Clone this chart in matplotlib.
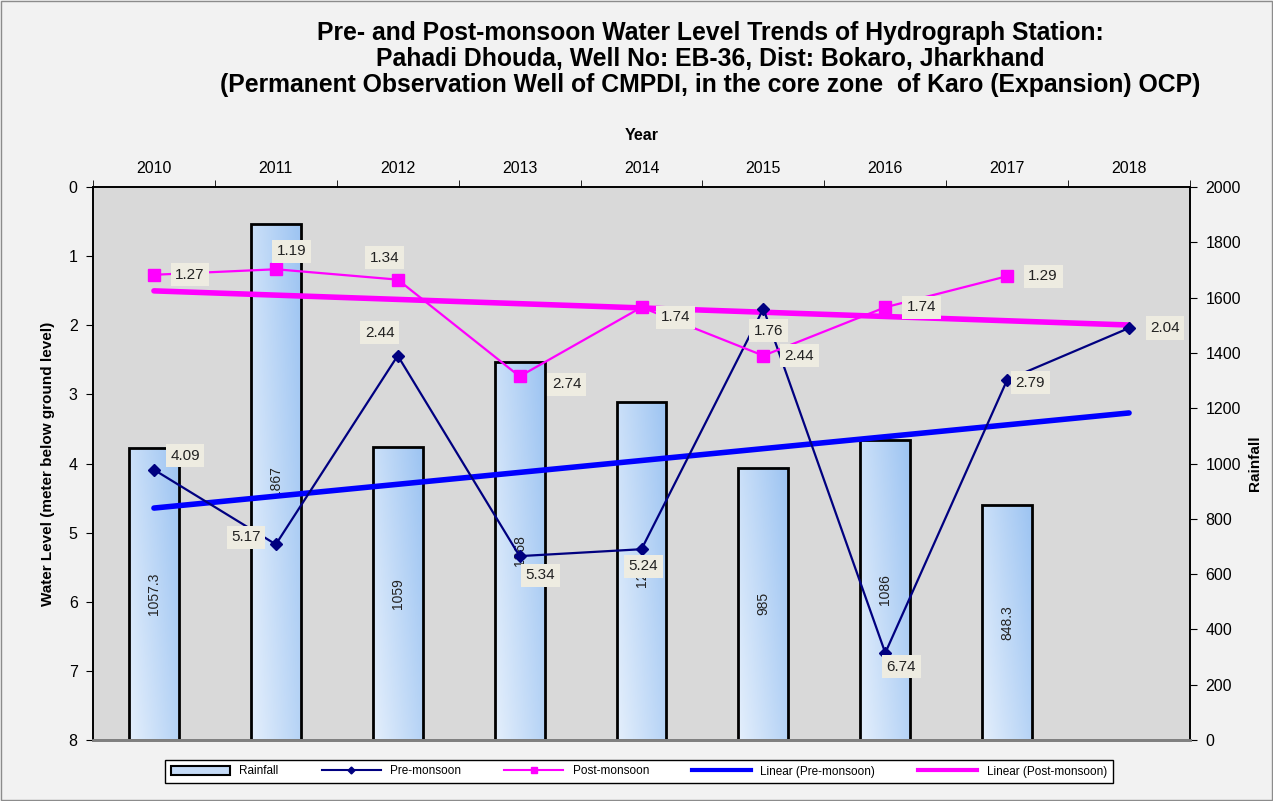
import numpy as np
import matplotlib.pyplot as plt
from matplotlib.patches import Rectangle, Patch
from matplotlib.lines import Line2D
from matplotlib.colors import LinearSegmentedColormap

plt.rcParams['font.family'] = ['Liberation Sans', 'DejaVu Sans']

years = [2010, 2011, 2012, 2013, 2014, 2015, 2016, 2017, 2018]
rainfall = [1057.3, 1867, 1059, 1368, 1222, 985, 1086, 848.3]
pre_monsoon = [4.09, 5.17, 2.44, 5.34, 5.24, 1.76, 6.74, 2.79, 2.04]
post_monsoon = [1.27, 1.19, 1.34, 2.74, 1.74, 2.44, 1.74, 1.29]

# label offsets in pixels (dx, dy) -- dy positive = up
pre_offsets = [(31, 14), (-30, 7), (-18, 23), (21, -19), (2, -17),
               (5, -22), (16, -14), (23, -3), (36, 0)]
post_offsets = [(36, 0), (16, 18), (-13, 22), (47, -8), (34, -10),
                (36, 0), (36, 0), (36, 0)]

fig = plt.figure(figsize=(12.73, 8.01), dpi=100, facecolor='#f2f2f2')
ax = fig.add_axes([93 / 1273, 1 - 740 / 801, 1097 / 1273, 553 / 801])
ax_r = ax.twinx()

# put lines above bars
ax.set_zorder(ax_r.get_zorder() + 1)
ax.patch.set_visible(False)
ax_r.patch.set_visible(True)
ax_r.set_facecolor('#d9d9d9')

# rainfall bars with gradient fill
cmap = LinearSegmentedColormap.from_list('bar', ['#e4effc', '#9dc4f2'])
u, v = np.meshgrid(np.linspace(0, 1, 50), np.linspace(0, 1, 50))
grad = 0.65 * u + 0.35 * v
bw = 0.41
for i, r in enumerate(rainfall):
    ax_r.imshow(grad, extent=(i - bw / 2, i + bw / 2, 0, r), origin='lower',
                cmap=cmap, aspect='auto', zorder=1, interpolation='bilinear')
    ax_r.add_patch(Rectangle((i - bw / 2, 0), bw, r, fill=False,
                             ec='black', lw=2, zorder=2))
    ax_r.text(i, r / 2, f'{r:g}', rotation=90, ha='center', va='center',
              fontsize=10, color='#222222', zorder=3)

x_pre = np.arange(len(pre_monsoon))
x_post = np.arange(len(post_monsoon))

ax.plot(x_pre, pre_monsoon, color='#000080', lw=1.6, marker='D', ms=6, zorder=4)
ax.plot(x_post, post_monsoon, color='#ff00ff', lw=1.6, marker='s', ms=9, zorder=4)

# linear trends
p1 = np.polyfit(x_pre, pre_monsoon, 1)
p2 = np.polyfit(x_post, post_monsoon, 1)
xt = np.array([0, len(years) - 1])
ax.plot(xt, np.polyval(p1, xt), color='#0000ff', lw=4, zorder=3,
        solid_capstyle='round')
ax.plot(xt, np.polyval(p2, xt), color='#ff00ff', lw=4, zorder=3,
        solid_capstyle='round')

box = dict(boxstyle='square,pad=0.3', fc='#eeece1', ec='none')
for i, (val, off) in enumerate(zip(pre_monsoon, pre_offsets)):
    ax.annotate(f'{val:.2f}', (i, val), xytext=off, textcoords='offset pixels',
                ha='center', va='center', fontsize=11, color='#222222',
                bbox=box, zorder=6)
for i, (val, off) in enumerate(zip(post_monsoon, post_offsets)):
    ax.annotate(f'{val:.2f}', (i, val), xytext=off, textcoords='offset pixels',
                ha='center', va='center', fontsize=11, color='#222222',
                bbox=box, zorder=6)

# axes setup
ax.set_xlim(-0.5, len(years) - 0.5)
ax.set_ylim(8, 0)
ax_r.set_ylim(0, 2000)
ax.set_yticks(range(0, 9))
ax_r.set_yticks(range(0, 2001, 200))

ax.xaxis.tick_top()
ax.xaxis.set_label_position('top')
ax.set_xticks(range(len(years)))
ax.set_xticklabels([str(y) for y in years])
ax.set_xticks(np.arange(-0.5, len(years), 1), minor=True)
ax.tick_params(axis='x', which='major', length=0, pad=8, labelsize=11.5)
ax.tick_params(axis='x', which='minor', length=5, direction='out')
ax.tick_params(axis='y', length=5, direction='out', labelsize=11.5, pad=6)
ax_r.tick_params(axis='y', length=5, direction='out', labelsize=11.5, pad=6)

ax.set_xlabel('Year', fontsize=11.5, fontweight='bold', labelpad=15)
ax.set_ylabel('Water Level (meter below ground level)', fontsize=11,
              fontweight='bold', labelpad=10)
ax_r.set_ylabel('Rainfall', fontsize=11, fontweight='bold', labelpad=5)

for a in (ax, ax_r):
    a.spines['bottom'].set_color('#808080')
    a.spines['bottom'].set_linewidth(2)
    for s in ('left', 'right', 'top'):
        a.spines[s].set_linewidth(1.2)
        a.spines[s].set_color('black')

fig.text(710 / 1273, 1 - 59 / 801,
         'Pre- and Post-monsoon Water Level Trends of Hydrograph Station:\n'
         'Pahadi Dhouda, Well No: EB-36, Dist: Bokaro, Jharkhand\n'
         '(Permanent Observation Well of CMPDI, in the core zone  of Karo (Expansion) OCP)',
         ha='center', va='center', fontsize=17.8, fontweight='bold',
         linespacing=1.13)

handles = [
    Patch(facecolor='#c5dbf7', edgecolor='black', lw=1.5),
    Line2D([], [], color='#000080', marker='D', ms=3.5, lw=1.5),
    Line2D([], [], color='#ff00ff', marker='s', ms=4.5, lw=1.5),
    Line2D([], [], color='#0000ff', lw=3),
    Line2D([], [], color='#ff00ff', lw=3),
]
labels = ['Rainfall', 'Pre-monsoon', 'Post-monsoon',
          'Linear (Pre-monsoon)', 'Linear (Post-monsoon)']
leg = fig.legend(handles, labels, loc='center', ncol=5, mode='expand',
                 bbox_to_anchor=(165 / 1273, 1 - 786 / 801, 948 / 1273, 29 / 801),
                 fontsize=8.5, frameon=True, fancybox=False, handlelength=5,
                 borderaxespad=0, borderpad=0.5)
leg.get_frame().set_edgecolor('black')
leg.get_frame().set_facecolor('white')
leg.get_frame().set_alpha(1)

fig.patches.append(Rectangle((0.001, 0.001), 0.998, 0.998,
                             transform=fig.transFigure, fill=False,
                             ec='#8c8c8c', lw=1))

fig.savefig('out.png', dpi=100, facecolor=fig.get_facecolor())
